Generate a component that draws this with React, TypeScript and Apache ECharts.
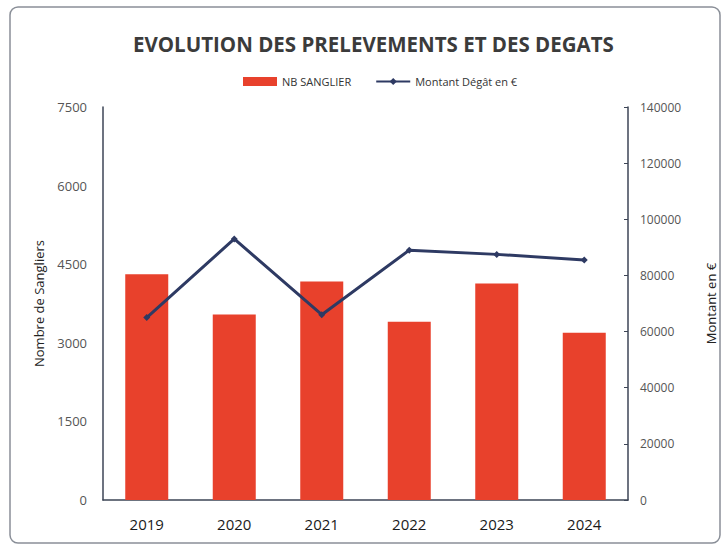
import React, { useEffect, useRef } from "react";
import * as echarts from "echarts";

const years = ["2019", "2020", "2021", "2022", "2023", "2024"];
const nbSanglier = [4310, 3540, 4170, 3400, 4130, 3190];
const montantDegat = [65000, 93000, 66000, 89000, 87500, 85500];

export default function App() {
  const ref = useRef<HTMLDivElement>(null);
  useEffect(() => {
    const chart = echarts.init(ref.current!, null, { renderer: "svg" });
    const font = "'Open Sans', 'Noto Sans', sans-serif";
    chart.setOption({
      animation: false,
      backgroundColor: "#ffffff",
      graphic: [
        {
          type: "rect",
          shape: { x: 10, y: 7, width: 710, height: 536, r: 8 },
          style: { fill: "none", stroke: "#8a8f98", lineWidth: 1.5 },
        },
      ],
      title: {
        text: "EVOLUTION DES PRELEVEMENTS ET DES DEGATS",
        left: 128,
        top: 28,
        textStyle: { fontFamily: font, fontSize: 20.5, fontWeight: "bold", color: "#3b3b3b" },
      },
      legend: {
        top: 71,
        left: 238,
        itemGap: 24,
        textStyle: { fontFamily: font, fontSize: 11, color: "#333" },
        data: [
          { name: "NB SANGLIER", icon: "rect", itemStyle: { color: "#e8412c" } },
          { name: "Montant Dégât en €" },
        ],
        itemWidth: 34,
        itemHeight: 9,
      },
      grid: { left: 103, right: 98, top: 107, bottom: 47 },
      xAxis: {
        type: "category",
        data: years,
        axisLine: { lineStyle: { color: "#3c4556", width: 1.5 } },
        axisTick: { show: false },
        axisLabel: { fontFamily: font, fontSize: 15, color: "#1a1a1a", margin: 16 },
      },
      yAxis: [
        {
          type: "value",
          min: 0,
          max: 7500,
          interval: 1500,
          name: "Nombre de Sangliers",
          nameLocation: "middle",
          nameGap: 58,
          nameTextStyle: { fontFamily: font, fontSize: 13, color: "#222" },
          axisLine: { show: true, lineStyle: { color: "#3c4556", width: 1.5 } },
          axisTick: { show: false },
          splitLine: { show: false },
          axisLabel: { fontFamily: font, fontSize: 13, color: "#555", margin: 16, formatter: (v: number) => String(v) },
        },
        {
          type: "value",
          min: 0,
          max: 140000,
          interval: 20000,
          position: "right",
          name: "Montant en €",
          nameLocation: "middle",
          nameGap: 76,
          nameRotate: 90,
          nameTextStyle: { fontFamily: font, fontSize: 13, color: "#222" },
          axisLine: { show: true, lineStyle: { color: "#3c4556", width: 1.5 } },
          axisTick: { show: true, inside: true, length: 4, lineStyle: { color: "#3c4556" } },
          splitLine: { show: false },
          axisLabel: { fontFamily: font, fontSize: 12, color: "#555", margin: 12, formatter: (v: number) => String(v) },
        },
      ],
      series: [
        {
          name: "NB SANGLIER",
          type: "bar",
          data: nbSanglier,
          barWidth: 43,
          itemStyle: { color: "#e8412c" },
          yAxisIndex: 0,
        },
        {
          name: "Montant Dégât en €",
          type: "line",
          data: montantDegat,
          yAxisIndex: 1,
          symbol: "diamond",
          symbolSize: 7,
          lineStyle: { color: "#2e3a63", width: 3 },
          itemStyle: { color: "#2e3a63" },
        },
      ],
    });
    return () => chart.dispose();
  }, []);
  return <div ref={ref} style={{ position: "absolute", left: 0, top: 0, width: 726, height: 547 }} />;
}
